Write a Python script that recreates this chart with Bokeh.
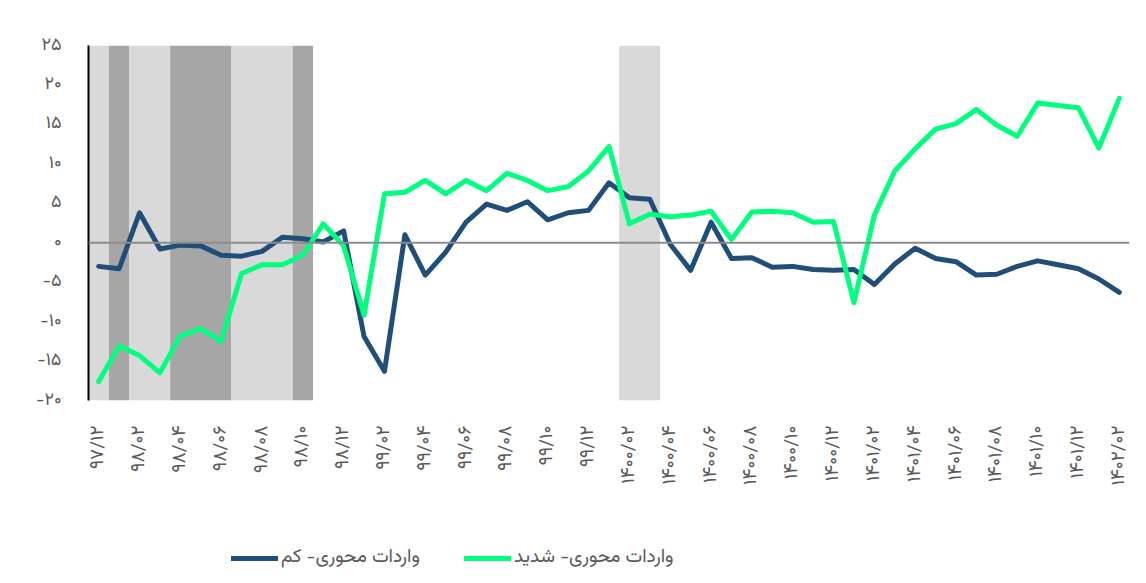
import math
from bokeh.plotting import figure
from bokeh.layouts import column
from bokeh.models import Range1d, FixedTicker, Span, Legend, LegendItem
from bokeh.embed import file_html
from bokeh.resources import INLINE

# ---------------- data ----------------
x_labels = ["۹۷/۱۲", "۹۸/۰۲", "۹۸/۰۴", "۹۸/۰۶", "۹۸/۰۸", "۹۸/۱۰", "۹۸/۱۲",
            "۹۹/۰۲", "۹۹/۰۴", "۹۹/۰۶", "۹۹/۰۸", "۹۹/۱۰", "۹۹/۱۲",
            "۱۴۰۰/۰۲", "۱۴۰۰/۰۴", "۱۴۰۰/۰۶", "۱۴۰۰/۰۸", "۱۴۰۰/۱۰", "۱۴۰۰/۱۲",
            "۱۴۰۱/۰۲", "۱۴۰۱/۰۴", "۱۴۰۱/۰۶", "۱۴۰۱/۰۸", "۱۴۰۱/۱۰", "۱۴۰۱/۱۲",
            "۱۴۰۲/۰۲"]

y_ticks = [-20, -15, -10, -5, 0, 5, 10, 15, 20, 25]
y_labels = ["-۲۰", "-۱۵", "-۱۰", "-۵", "۰", "۵", "۱۰", "۱۵", "۲۰", "۲۵"]

series_low_name = "واردات محوری- کم"
series_high_name = "واردات محوری- شدید"

low = [-3.0, -3.3, 3.8, -0.8, -0.3, -0.4, -1.6, -1.7, -1.1, 0.7,
       0.5, 0.1, 1.5, -11.9, -16.3, 1.0, -4.1, -1.2, 2.6, 4.9,
       4.1, 5.2, 2.9, 3.8, 4.1, 7.6, 5.7, 5.5, -0.2, -3.5,
       2.6, -2.0, -1.9, -3.1, -3.0, -3.4, -3.5, -3.4, -5.3, -2.7,
       -0.7, -2.0, -2.4, -4.1, -4.0, -3.0, -2.3, -2.8, -3.3, -4.6,
       -6.3]

high = [-17.6, -13.1, -14.3, -16.5, -11.8, -10.9, -12.5, -3.9, -2.8, -2.8,
        -1.6, 2.4, -0.4, -9.2, 6.2, 6.4, 7.9, 6.2, 7.9, 6.6,
        8.8, 7.9, 6.6, 7.1, 9.1, 12.2, 2.4, 3.6, 3.3, 3.5,
        4.0, 0.4, 3.9, 4.0, 3.8, 2.6, 2.7, -7.6, 3.5, 9.1,
        11.9, 14.4, 15.1, 16.9, 14.9, 13.5, 17.7, 17.4, 17.1, 12.0,
        18.3]

# shading level per month: 0 none, 1 light, 2 dark
shade = [1, 2, 1, 1, 2, 2, 2, 1, 1, 1,
         2, 0, 0, 0, 0, 0, 0, 0, 0, 0,
         0, 0, 0, 0, 0, 0, 1, 1, 0, 0,
         0, 0, 0, 0, 0, 0, 0, 0, 0, 0,
         0, 0, 0, 0, 0, 0, 0, 0, 0, 0,
         0]

# ---------------- build ----------------
n = len(low)
idx = list(range(n))
shade_colors = {1: "#D9D9D9", 2: "#A6A6A6"}
LOW_COLOR = "#1F4E79"
HIGH_COLOR = "#00FF7F"

FONT = "Vazirmatn, Noto Naskh Arabic, Noto Sans Arabic, DejaVu Sans"

p = figure(width=1146, height=530,
           x_range=Range1d(-0.5, n - 0.5), y_range=Range1d(-20, 25),
           output_backend="svg", toolbar_location=None,
           min_border_left=88, min_border_right=17,
           min_border_top=45, min_border_bottom=130)
p.xgrid.visible = False
p.ygrid.visible = False
p.outline_line_color = None

# merge consecutive months of equal shading into single bands
runs = []
i = 0
while i < n:
    j = i
    while j + 1 < n and shade[j + 1] == shade[i]:
        j += 1
    if shade[i] > 0:
        runs.append((i - 0.5, j + 0.5, shade_colors[shade[i]]))
    i = j + 1
p.quad(left=[r[0] for r in runs], right=[r[1] for r in runs],
       bottom=-20, top=25, fill_color=[r[2] for r in runs], line_color=None)

zero = Span(location=0, dimension="width", line_color="#8C8C8C", line_width=2)
p.add_layout(zero)

r_low = p.line(idx, low, line_color=LOW_COLOR, line_width=5,
               line_join="round", line_cap="round")
r_high = p.line(idx, high, line_color=HIGH_COLOR, line_width=5,
                line_join="round", line_cap="round")

# x axis
xa = p.xaxis[0]
xa.ticker = FixedTicker(ticks=list(range(0, n, 2)))
xa.major_label_overrides = {k * 2: lab for k, lab in enumerate(x_labels)}
xa.major_label_orientation = math.pi / 2
xa.axis_line_color = None
xa.major_tick_line_color = None
xa.minor_tick_line_color = None
xa.major_tick_in = 0
xa.major_tick_out = 0
xa.major_label_standoff = 25
xa.major_label_text_font = FONT
xa.major_label_text_font_size = "19px"
xa.major_label_text_color = "#595959"

# y axis
ya = p.yaxis[0]
ya.ticker = FixedTicker(ticks=y_ticks)
ya.major_label_overrides = {t: lab for t, lab in zip(y_ticks, y_labels)}
ya.axis_line_color = "black"
ya.axis_line_width = 2
ya.major_tick_line_color = None
ya.minor_tick_line_color = None
ya.major_tick_in = 0
ya.major_tick_out = 0
ya.major_label_standoff = 27
ya.major_label_text_font = FONT
ya.major_label_text_font_size = "18px"
ya.major_label_text_color = "#595959"

# legend strip (legend-only renderers carry no visible points)
nan = float("nan")
lg = figure(width=1146, height=53, x_range=Range1d(0, 1), y_range=Range1d(0, 1),
            output_backend="svg", toolbar_location=None,
            x_axis_type=None, y_axis_type=None, min_border=0)
lg.xgrid.visible = False
lg.ygrid.visible = False
lg.outline_line_color = None
l_low = lg.line([nan], [nan], line_color=LOW_COLOR, line_width=5, line_cap="round")
l_high = lg.line([nan], [nan], line_color=HIGH_COLOR, line_width=5, line_cap="round")
legend = Legend(items=[LegendItem(label=series_low_name, renderers=[l_low]),
                       LegendItem(label=series_high_name, renderers=[l_high])],
                orientation="horizontal", location=(143, 11),
                glyph_width=47, label_standoff=3, spacing=44,
                label_text_font=FONT, label_text_font_size="19px",
                label_text_color="#595959", border_line_color=None,
                background_fill_alpha=0, margin=0, padding=5)
lg.add_layout(legend)

layout = column(p, lg, spacing=0)
open("out.html", "w").write(file_html(layout, INLINE))
